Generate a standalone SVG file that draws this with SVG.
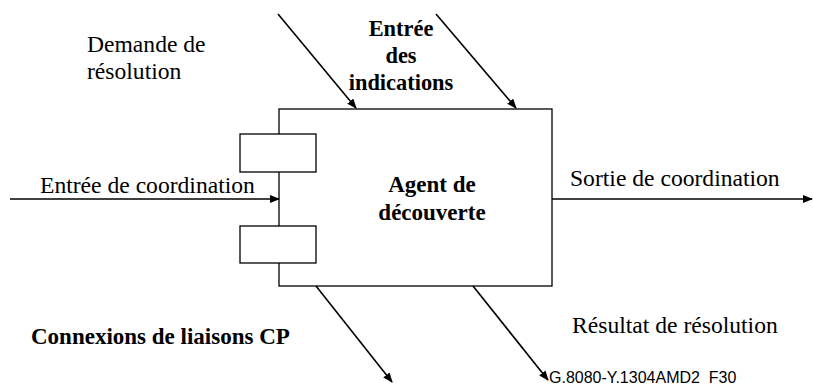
<svg xmlns="http://www.w3.org/2000/svg" width="813" height="385" viewBox="0 0 813 385">
  <defs>
    <marker id="arrow" markerWidth="10" markerHeight="8" refX="9" refY="4" orient="auto" markerUnits="userSpaceOnUse">
      <path d="M0,0 L10,4 L0,8 Z" fill="#000"/>
    </marker>
  </defs>
  <style>
    .box { fill: #fff; stroke: #000; stroke-width: 1.3; }
    .line { stroke: #000; stroke-width: 1.6; fill: none; marker-end: url(#arrow); }
    .t { font-family: "Liberation Serif", "Times New Roman", serif; font-size: 23.6px; fill: #000; }
    .b { font-family: "Liberation Serif", "Times New Roman", serif; font-size: 23px; font-weight: bold; fill: #000; }
    .ref { font-family: "Liberation Sans", Arial, sans-serif; font-size: 16px; fill: #000; }
  </style>
  <rect width="813" height="385" fill="#fff"/>

  <g id="agent">
    <rect class="box" x="279" y="109" width="273" height="177"/>
    <text class="b" x="432" y="192" text-anchor="middle">Agent de</text>
    <text class="b" x="432" y="220" text-anchor="middle">découverte</text>
  </g>
  <g id="port-top">
    <rect class="box" x="240" y="134" width="76" height="38"/>
  </g>
  <g id="port-bottom">
    <rect class="box" x="240" y="226" width="76" height="37"/>
  </g>

  <g id="connectors">
    <line class="line" x1="10" y1="199" x2="279" y2="199"/>
    <line class="line" x1="552" y1="199" x2="812" y2="199"/>
    <line class="line" x1="278" y1="14" x2="356" y2="108"/>
    <line class="line" x1="436" y1="14" x2="516" y2="108"/>
    <line class="line" x1="316" y1="286" x2="392" y2="382"/>
    <line class="line" x1="473" y1="286" x2="548" y2="380"/>
  </g>

  <g id="labels">
    <text class="t" x="87" y="52">Demande de</text>
    <text class="t" x="87" y="79">résolution</text>
    <text class="b" x="401" y="36" text-anchor="middle" style="font-size:22.4px">Entrée</text>
    <text class="b" x="401" y="63" text-anchor="middle" style="font-size:22.4px">des</text>
    <text class="b" x="401" y="90" text-anchor="middle" style="font-size:22.4px">indications</text>
    <text class="t" x="40" y="193">Entrée de coordination</text>
    <text class="t" x="570" y="186">Sortie de coordination</text>
    <text class="b" x="31" y="344">Connexions de liaisons CP</text>
    <text class="t" x="572" y="333">Résultat de résolution</text>
    <text class="ref" x="549" y="383" xml:space="preserve">G.8080-Y.1304AMD2  F30</text>
  </g>
</svg>
